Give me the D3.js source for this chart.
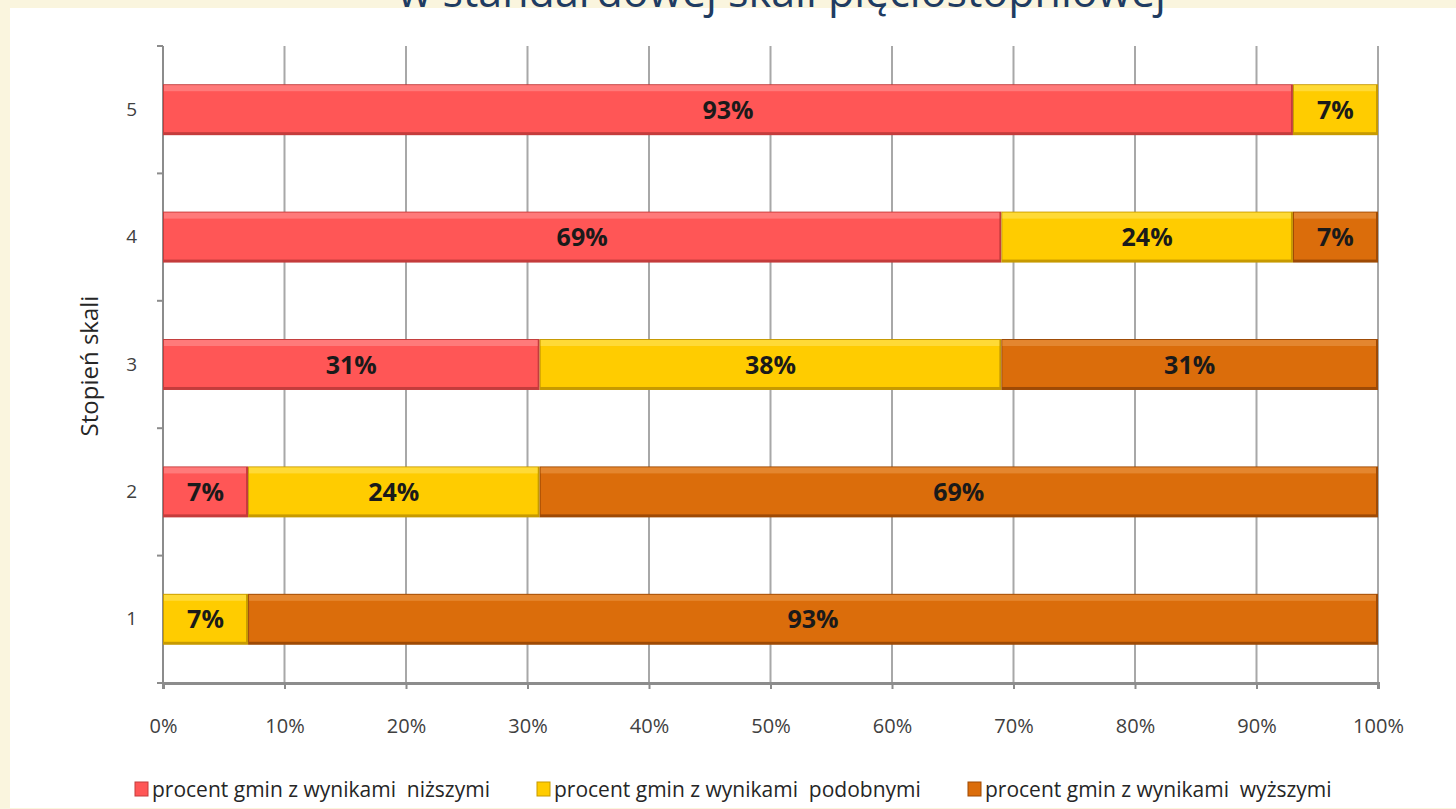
<!DOCTYPE html>
<html><head><meta charset="utf-8">
<script src="https://cdn.jsdelivr.net/npm/d3@7"></script>
<style>
html,body{margin:0;padding:0;background:#faf5de;}
svg{display:block;}
</style></head>
<body>
<svg id="c" width="1456" height="809"></svg>
<script>
const categories = ["1","2","3","4","5"];
const lowerPct   = [0, 7, 31, 69, 93];
const similarPct = [7, 24, 38, 24, 7];
const higherPct  = [93, 69, 31, 7, 0];
const seriesNames = ["procent gmin z wynikami  niższymi","procent gmin z wynikami  podobnymi","procent gmin z wynikami  wyższymi"];
const xTicks = [0,10,20,30,40,50,60,70,80,90,100];
const titleText = "w standardowej skali pięciostopniowej";
const yTitle = "Stopień skali";

const colors = ["#ff5656","#ffcc00","#db6d0b"];
const dark = ["#c43c3c","#c79a00","#9e4a05"];
const light = ["#ff8a8a","#ffe04d","#e8913e"];

const svg = d3.select("#c");
svg.append("rect").attr("x",0).attr("y",0).attr("width",1456).attr("height",809).attr("fill","#faf5de");
svg.append("rect").attr("x",10).attr("y",8).attr("width",1446).attr("height",800).attr("fill","#ffffff");

svg.append("text").attr("x",782).attr("y",7).attr("text-anchor","middle")
  .attr("font-family","Open Sans, sans-serif").attr("font-size",43).attr("fill","#1f3c62")
  .text(titleText);

const x = d3.scaleLinear().domain([0,100]).range([163,1378]);
const y = d3.scaleBand().domain(categories.slice().reverse()).range([46,683]).paddingInner(0.6).paddingOuter(0.3);
const yb = d3.scaleBand().domain(categories.slice().reverse()).range([46,683]);

// gridlines
svg.append("g").selectAll("line").data(xTicks.filter(d=>d>0)).join("line")
  .attr("x1",d=>x(d)).attr("x2",d=>x(d)).attr("y1",46).attr("y2",683)
  .attr("stroke","#a8a8a8").attr("stroke-width",2);

// left axis
svg.append("line").attr("x1",x(0)).attr("x2",x(0)).attr("y1",46).attr("y2",683).attr("stroke","#8c8c8c").attr("stroke-width",2);
const bounds = [46].concat(categories.slice().reverse().map(c=>yb(c)+yb.bandwidth()));
svg.append("g").selectAll("line").data(bounds).join("line")
  .attr("x1",x(0)-6).attr("x2",x(0)).attr("y1",d=>d).attr("y2",d=>d).attr("stroke","#8c8c8c").attr("stroke-width",2);

// bottom axis
const xAxis = d3.axisBottom(x).tickValues(xTicks).tickFormat(d=>d+"%").tickSize(6).tickPadding(30);
const gx = svg.append("g").attr("transform","translate(0,683)").call(xAxis);
gx.select(".domain").attr("stroke","#8c8c8c").attr("stroke-width",3);
gx.selectAll(".tick line").attr("stroke","#8c8c8c").attr("stroke-width",2);
gx.selectAll(".tick text").attr("font-family","Open Sans, sans-serif").attr("font-size",20).attr("fill","#404040");

// y labels
const yAxis = d3.axisLeft(y).tickSize(0).tickPadding(26);
const gy = svg.append("g").attr("transform",`translate(${x(0)},0)`).call(yAxis);
gy.select(".domain").remove();
gy.selectAll(".tick text").attr("font-family","Open Sans, sans-serif").attr("font-size",19).attr("fill","#404040");

svg.append("text").attr("transform","translate(98,366) rotate(-90)").attr("text-anchor","middle")
  .attr("font-family","Open Sans, sans-serif").attr("font-size",24).attr("fill","#262626").text(yTitle);

// stacked data
const rows = categories.map((c,i)=>({cat:c, a:lowerPct[i], b:similarPct[i], c:higherPct[i]}));
const stack = d3.stack().keys(["a","b","c"])(rows);

const bh = y.bandwidth();
stack.forEach((layer,k)=>{
  const g = svg.append("g");
  layer.forEach(d=>{
    const v = d[1]-d[0];
    if(v<=0) return;
    const x0 = x(d[0]), w = x(d[1])-x(d[0]), y0 = y(d.data.cat);
    g.append("rect").attr("x",x0).attr("y",y0).attr("width",w).attr("height",bh).attr("fill",dark[k]);
    g.append("rect").attr("x",x0+1).attr("y",y0+1).attr("width",w-3).attr("height",bh-4).attr("fill",colors[k]);
    g.append("rect").attr("x",x0+1).attr("y",y0+1).attr("width",w-3).attr("height",6).attr("fill",light[k]).attr("opacity",0.7);
    g.append("text").attr("x",x0+w/2).attr("y",y0+bh/2).attr("dy","0.36em").attr("text-anchor","middle")
      .attr("font-family","Open Sans, sans-serif").attr("font-weight","bold").attr("font-size",25).attr("fill","#1a1a1a")
      .text(v+"%");
  });
});

// legend
const legX = [135, 537, 968];
const lg = svg.append("g");
seriesNames.forEach((n,k)=>{
  lg.append("rect").attr("x",legX[k]).attr("y",782).attr("width",13).attr("height",14).attr("fill",colors[k]).attr("stroke",dark[k]).attr("stroke-width",1);
  lg.append("text").attr("x",legX[k]+17).attr("y",797).attr("font-family","Open Sans, sans-serif").attr("font-size",21).attr("fill","#262626")
    .attr("xml:space","preserve").style("white-space","pre").text(n);
});
</script>
</body></html>
